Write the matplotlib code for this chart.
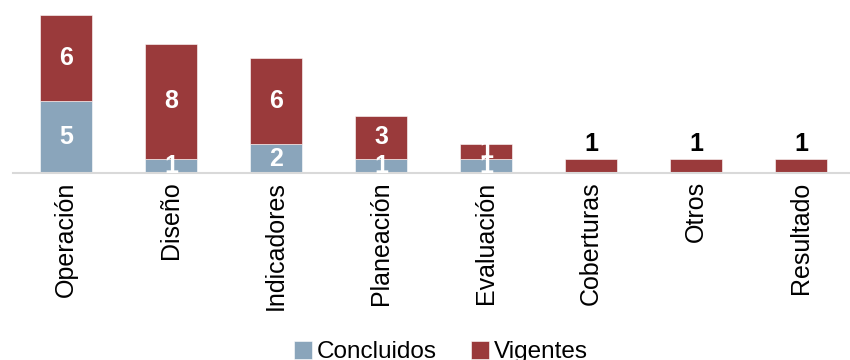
import numpy as np
import matplotlib
matplotlib.use('Agg')
import matplotlib.pyplot as plt

# data
categorias = ['Operación', 'Diseño', 'Indicadores', 'Planeación', 'Evaluación',
              'Coberturas', 'Otros', 'Resultado']
concluidos = [5, 1, 2, 1, 1, 0, 0, 0]
vigentes = [6, 8, 6, 3, 1, 1, 1, 1]

color_concl = '#8AA5BB'
color_vig = '#9A3A3B'

plt.rcParams['font.family'] = ['Liberation Sans', 'DejaVu Sans']

fig = plt.figure(figsize=(8.5, 3.6), dpi=100)
ax = fig.add_axes([13.5 / 850, 1 - 173 / 360, 836.5 / 850, 173 / 360])

x = np.arange(len(categorias))
b1 = ax.bar(x, concluidos, width=0.5, color=color_concl, edgecolor='white', linewidth=0.4)
b2 = ax.bar(x, vigentes, width=0.5, bottom=concluidos, color=color_vig,
            edgecolor='white', linewidth=0.4)

# value labels
for i in range(len(categorias)):
    c = concluidos[i]
    v = vigentes[i]
    if c > 0:
        ax.text(x[i], c / 2, str(c), ha='center', va='center', color='white',
                fontsize=18, fontweight='bold')
        ax.text(x[i], c + v / 2, str(v), ha='center', va='center', color='white',
                fontsize=18, fontweight='bold')
    else:
        ax.text(x[i], v + 0.15, str(v), ha='center', va='bottom', color='black',
                fontsize=18, fontweight='bold')

ax.set_xlim(-0.5, 7.467)
ax.set_ylim(0, 12.05)
ax.set_xticks(x)
ax.set_xticklabels(categorias, rotation=90, fontsize=18)
ax.tick_params(axis='x', length=0, pad=6)
ax.set_yticks([])
for s in ['top', 'right', 'left']:
    ax.spines[s].set_visible(False)
ax.spines['bottom'].set_color('#D9D9D9')
ax.spines['bottom'].set_linewidth(1.5)

fig.legend([b1, b2], ['Concluidos', 'Vigentes'], loc='center',
           bbox_to_anchor=(441 / 850, 1 - 352 / 360), ncol=2, frameon=False,
           fontsize=17.5, handlelength=0.75, handleheight=0.75, handletextpad=0.2,
           columnspacing=1.4, borderpad=0)

fig.savefig('out.png', dpi=100)
